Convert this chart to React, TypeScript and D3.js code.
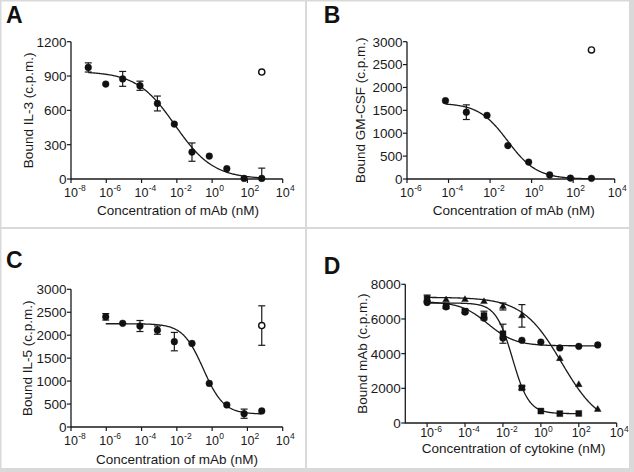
import { useEffect, useRef } from 'react';
import * as d3 from 'd3';

// ---- panel A: bound IL-3 vs mAb ----
const aConc = [9.5e-8, 9.3e-7, 8.5e-6, 8.1e-5, 7.9e-4, 7.2e-3, 7.2e-2, 0.69, 6.8, 65, 650];
const aBound = [975, 830, 875, 815, 660, 480, 235, 200, 90, 5, 5];
const aErr = [40, 0, 65, 40, 65, 0, 80, 0, 0, 0, 90];
const aCtrlConc = [650];
const aCtrlBound = [935];
const aCtrlErr = [0];
const aFit = { top: 940, bottom: 0, logEC50: -2.1, hill: 0.4 };
const aYTicks = [0, 300, 600, 900, 1200];
const aXExp = [-8, -6, -4, -2, 0, 2, 4];

// ---- panel B: bound GM-CSF vs mAb ----
const bConc = [7.1e-5, 7.2e-4, 7.1e-3, 7.2e-2, 0.72, 7.4, 74, 760];
const bBound = [1710, 1460, 1390, 730, 370, 90, 20, 15];
const bErr = [0, 160, 0, 0, 0, 0, 0, 0];
const bCtrlConc = [760];
const bCtrlBound = [2820];
const bCtrlErr = [0];
const bFit = { top: 1660, bottom: 0, logEC50: -1.15, hill: 0.62 };
const bYTicks = [0, 500, 1000, 1500, 2000, 2500, 3000];
const bXExp = [-6, -4, -2, 0, 2, 4];

// ---- panel C: bound IL-5 vs mAb ----
const cConc = [9.3e-7, 8.5e-6, 8.1e-5, 7.9e-4, 7.2e-3, 7.2e-2, 0.69, 6.8, 65, 650];
const cBound = [2400, 2260, 2200, 2110, 1860, 1820, 950, 480, 290, 350];
const cErr = [70, 0, 120, 90, 200, 0, 0, 0, 100, 0];
const cCtrlConc = [650];
const cCtrlBound = [2210];
const cCtrlErr = [430];
const cFit = { top: 2250, bottom: 280, logEC50: -0.5, hill: 0.75 };
const cYTicks = [0, 500, 1000, 1500, 2000, 2500, 3000];
const cXExp = [-8, -6, -4, -2, 0, 2, 4];

// ---- panel D: bound mAb vs cytokine ----
const dTriConc = [1e-6, 1e-5, 1e-4, 1e-3, 1e-2, 1e-1, 10, 100, 1000];
const dTriBound = [7150, 7100, 7120, 7000, 6720, 6180, 3710, 2210, 780];
const dTriErr = [0, 0, 0, 0, 200, 650, 0, 0, 0];
const dTriFit = { top: 7250, bottom: -300, logEC50: 1.1, hill: 0.42 };

const dCircConc = [1e-6, 1e-5, 1e-4, 1e-3, 1e-2, 1e-1, 1, 10, 100, 1000];
const dCircBound = [6950, 6700, 6400, 6050, 4900, 4770, 4670, 4330, 4420, 4500];
const dCircErr = [0, 0, 0, 0, 0, 0, 0, 0, 0, 0];
const dCircFit = { top: 7000, bottom: 4450, logEC50: -2.8, hill: 0.6 };

const dSqConc = [1e-6, 1e-5, 1e-4, 1e-3, 1e-2, 1e-1, 1, 10, 100];
const dSqBound = [7180, 6750, 6450, 6200, 5150, 2030, 690, 540, 550];
const dSqErr = [200, 150, 100, 250, 550, 100, 0, 0, 0];
const dSqFit = { top: 6920, bottom: 540, logEC50: -1.5, hill: 1.0 };

const dYTicks = [0, 2000, 4000, 6000, 8000];
const dXExp = [-6, -4, -2, 0, 2, 4];

const FONT = "'Liberation Sans', Arial, Helvetica, sans-serif";
const INK = '#1a1a1a';

type Marker = 'circle' | 'open' | 'square' | 'triangle';
interface Fit { top: number; bottom: number; logEC50: number; hill: number; }
interface Series { conc: number[]; bound: number[]; err: number[]; marker: Marker; fit?: Fit; }
interface Panel {
  label: string;
  labelX: number;
  labelY: number;
  xDomain: [number, number];
  xRange: [number, number];
  yTop: number;
  yBottom: number;
  yTicks: number[];
  xExp: number[];
  xTickDy: number;
  yTitle: string;
  yTitleX: number;
  xTitle: string;
  xTitleX: number;
  xTitleY: number;
  series: Series[];
}

const panels: Panel[] = [
  {
    label: 'A', labelX: 6, labelY: 23,
    xDomain: [1e-8, 1e4], xRange: [71, 282.7], yTop: 41.7, yBottom: 179,
    yTicks: aYTicks, xExp: aXExp, xTickDy: 17.5,
    yTitle: 'Bound IL-3 (c.p.m.)', yTitleX: 28,
    xTitle: 'Concentration of mAb (nM)', xTitleX: 178, xTitleY: 215,
    series: [
      { conc: aConc, bound: aBound, err: aErr, marker: 'circle', fit: aFit },
      { conc: aCtrlConc, bound: aCtrlBound, err: aCtrlErr, marker: 'open' },
    ],
  },
  {
    label: 'B', labelX: 323.7, labelY: 23,
    xDomain: [1e-6, 1e4], xRange: [407, 614.7], yTop: 41.7, yBottom: 179,
    yTicks: bYTicks, xExp: bXExp, xTickDy: 17.5,
    yTitle: 'Bound GM-CSF (c.p.m.)', yTitleX: 360.5,
    xTitle: 'Concentration of mAb (nM)', xTitleX: 513.7, xTitleY: 215,
    series: [
      { conc: bConc, bound: bBound, err: bErr, marker: 'circle', fit: bFit },
      { conc: bCtrlConc, bound: bCtrlBound, err: bCtrlErr, marker: 'open' },
    ],
  },
  {
    label: 'C', labelX: 6, labelY: 268,
    xDomain: [1e-8, 1e4], xRange: [71, 282.7], yTop: 289.3, yBottom: 427,
    yTicks: cYTicks, xExp: cXExp, xTickDy: 17.5,
    yTitle: 'Bound IL-5 (c.p.m.)', yTitleX: 27,
    xTitle: 'Concentration of mAb (nM)', xTitleX: 177, xTitleY: 463.5,
    series: [
      { conc: cConc, bound: cBound, err: cErr, marker: 'circle', fit: cFit },
      { conc: cCtrlConc, bound: cCtrlBound, err: cCtrlErr, marker: 'open' },
    ],
  },
  {
    label: 'D', labelX: 323.7, labelY: 273.5,
    xDomain: [Math.pow(10, -7.15), 1e4], xRange: [405.3, 616.7], yTop: 284.3, yBottom: 423,
    yTicks: dYTicks, xExp: dXExp, xTickDy: 14,
    yTitle: 'Bound mAb (c.p.m.)', yTitleX: 362,
    xTitle: 'Concentration of cytokine (nM)', xTitleX: 513.7, xTitleY: 452.5,
    series: [
      { conc: dCircConc, bound: dCircBound, err: dCircErr, marker: 'circle', fit: dCircFit },
      { conc: dSqConc, bound: dSqBound, err: dSqErr, marker: 'square', fit: dSqFit },
      { conc: dTriConc, bound: dTriBound, err: dTriErr, marker: 'triangle', fit: dTriFit },
    ],
  },
];

// 4-parameter logistic, decreasing
const logistic = (f: Fit, logX: number) =>
  f.bottom + (f.top - f.bottom) / (1 + Math.pow(10, (logX - f.logEC50) * f.hill));

function drawPanel(g: d3.Selection<SVGGElement, unknown, null, undefined>, p: Panel) {
  const yMax = p.yTicks[p.yTicks.length - 1];
  const x = d3.scaleLog().domain(p.xDomain).range(p.xRange);
  const y = d3.scaleLinear().domain([0, yMax]).range([p.yBottom, p.yTop]);
  const y0 = y(0);
  const left = p.xRange[0];

  // axes
  g.append('line')
    .attr('x1', left).attr('x2', p.xRange[1])
    .attr('y1', y0).attr('y2', y0)
    .attr('stroke', INK).attr('stroke-width', 1.3);
  g.append('line')
    .attr('x1', left).attr('x2', left)
    .attr('y1', y0 + 0.6).attr('y2', y(yMax))
    .attr('stroke', INK).attr('stroke-width', 1.3);

  // x ticks: 10^n
  p.xExp.forEach(e => {
    const xt = x(Math.pow(10, e));
    g.append('line')
      .attr('x1', xt).attr('x2', xt)
      .attr('y1', y0).attr('y2', y0 + 4)
      .attr('stroke', INK).attr('stroke-width', 1.2);
    g.append('text')
      .attr('x', xt).attr('y', y0 + p.xTickDy)
      .attr('text-anchor', 'middle')
      .attr('font-size', 12.5)
      .attr('fill', INK)
      .text('10');
    g.append('text')
      .attr('x', xt + 7.2).attr('y', y0 + p.xTickDy - 5.5)
      .attr('font-size', 8.5)
      .attr('fill', INK)
      .text(String(e));
  });

  // y ticks
  p.yTicks.forEach(v => {
    g.append('line')
      .attr('x1', left - 4).attr('x2', left)
      .attr('y1', y(v)).attr('y2', y(v))
      .attr('stroke', INK).attr('stroke-width', 1.2);
    g.append('text')
      .attr('x', left - 4.5).attr('y', y(v))
      .attr('dy', '0.36em')
      .attr('text-anchor', 'end')
      .attr('font-size', 13.5)
      .attr('fill', INK)
      .text(String(v));
  });

  // titles
  g.append('text')
    .attr('x', p.xTitleX).attr('y', p.xTitleY)
    .attr('text-anchor', 'middle')
    .attr('font-size', 13.5)
    .attr('fill', INK)
    .text(p.xTitle);
  g.append('text')
    .attr('transform', `translate(${p.yTitleX},${(p.yTop + p.yBottom) / 2}) rotate(-90)`)
    .attr('text-anchor', 'middle')
    .attr('dy', '0.35em')
    .attr('font-size', 13.5)
    .attr('fill', INK)
    .text(p.yTitle);
  g.append('text')
    .attr('x', p.labelX).attr('y', p.labelY)
    .attr('font-size', 23)
    .attr('font-weight', 'bold')
    .attr('fill', '#111')
    .text(p.label);

  const line = d3.line<[number, number]>()
    .x(d => x(d[0]))
    .y(d => y(d[1]));

  // fitted curves
  p.series.forEach(s => {
    if (!s.fit) return;
    const lo = Math.log10(d3.min(s.conc)!);
    const hi = Math.log10(d3.max(s.conc)!);
    const pts: [number, number][] = d3.range(0, 201).map(i => {
      const l = lo + (hi - lo) * i / 200;
      return [Math.pow(10, l), logistic(s.fit!, l)];
    });
    g.append('path')
      .attr('d', line(pts))
      .attr('fill', 'none')
      .attr('stroke', INK)
      .attr('stroke-width', 1.3);
  });

  // error bars + markers
  p.series.forEach(s => {
    s.conc.forEach((c, i) => {
      const e = s.err[i];
      if (!e) return;
      const cx = x(c);
      const v = s.bound[i];
      const lowClamped = v - e < 0;
      const yl = y(Math.max(0, v - e));
      const yh = y(v + e);
      g.append('line')
        .attr('x1', cx).attr('x2', cx).attr('y1', yl).attr('y2', yh)
        .attr('stroke', INK).attr('stroke-width', 1.2);
      g.append('line')
        .attr('x1', cx - 3.5).attr('x2', cx + 3.5).attr('y1', yh).attr('y2', yh)
        .attr('stroke', INK).attr('stroke-width', 1.2);
      if (!lowClamped) {
        g.append('line')
          .attr('x1', cx - 3.5).attr('x2', cx + 3.5).attr('y1', yl).attr('y2', yl)
          .attr('stroke', INK).attr('stroke-width', 1.2);
      }
    });

    const sym = s.marker === 'square' ? d3.symbolSquare : s.marker === 'triangle' ? d3.symbolTriangle : d3.symbolCircle;
    const size = s.marker === 'square' ? 36 : s.marker === 'triangle' ? 20 : s.marker === 'open' ? 30 : 36;
    g.selectAll(null)
      .data(s.conc.map((c, i) => [c, s.bound[i]] as [number, number]))
      .join('path')
      .attr('transform', d => `translate(${x(d[0])},${y(d[1])})`)
      .attr('d', d3.symbol().type(sym).size(size)())
      .attr('fill', s.marker === 'open' ? '#fff' : '#111')
      .attr('stroke', '#111')
      .attr('stroke-width', s.marker === 'open' ? 1.4 : 0.4);
  });
}

export default function App() {
  const svgRef = useRef<SVGSVGElement>(null);

  useEffect(() => {
    if (!svgRef.current) return;
    const svg = d3.select(svgRef.current);
    svg.selectAll('*').remove();

    // grey frame with four white panels
    svg.append('rect').attr('width', 634).attr('height', 472).attr('fill', '#d9d9d9');
    const cells = [
      [1.5, 1.5, 303.5, 225.5],
      [307, 1.5, 322, 225.5],
      [1.5, 229, 303.5, 239],
      [307, 229, 322, 239],
    ];
    cells.forEach(([cx, cy, w, h]) => {
      svg.append('rect').attr('x', cx).attr('y', cy).attr('width', w).attr('height', h).attr('fill', '#fff');
    });

    panels.forEach(p => drawPanel(svg.append('g').attr('font-family', FONT), p));
  }, []);

  return (
    <svg
      ref={svgRef}
      width={634}
      height={472}
      style={{ position: 'absolute', left: 0, top: 0 }}
    />
  );
}
